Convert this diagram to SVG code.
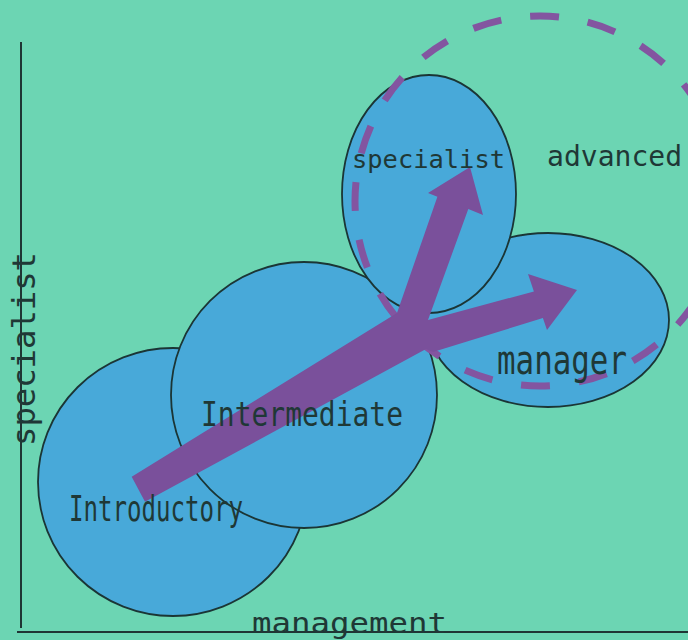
<svg xmlns="http://www.w3.org/2000/svg" width="688" height="640" viewBox="0 0 688 640">
  <style>
    .bg { fill: #6cd5b3; }
    .node { fill: #48a9d9; stroke: #1b3535; stroke-width: 1.8; }
    .axis { stroke: #1f3534; stroke-width: 2; fill: none; }
    .lbl { font-family: "DejaVu Sans Mono", "Liberation Mono", monospace; fill: #1f3836; }
    .arrow { fill: #7a509b; stroke: none; }
    .dash { fill: none; stroke: #8355a0; stroke-width: 7; stroke-dasharray: 29 29.1; stroke-dashoffset: 10; }
  </style>
  <rect class="bg" x="0" y="0" width="688" height="640"/>

  <g id="axes">
    <line class="axis" x1="21" y1="42" x2="21" y2="628"/>
    <line class="axis" x1="17" y1="632" x2="688" y2="632"/>
    <text class="lbl" transform="translate(35,349) rotate(-90)" text-anchor="middle" font-size="32" textLength="194" lengthAdjust="spacingAndGlyphs">specialist</text>
    <text class="lbl" x="252" y="633" font-size="28" textLength="195" lengthAdjust="spacingAndGlyphs">management</text>
  </g>

  <g id="introductory">
    <ellipse class="node" cx="173" cy="482" rx="135" ry="134"/>
  </g>
  <g id="manager">
    <ellipse class="node" cx="548" cy="320" rx="121" ry="87"/>
  </g>
  <g id="intermediate">
    <ellipse class="node" cx="304" cy="395" rx="133" ry="133"/>
  </g>
  <g id="specialist">
    <ellipse class="node" cx="429" cy="194" rx="87" ry="119"/>
  </g>

  <g id="advanced">
    <circle class="dash" cx="540" cy="201" r="185"/>
  </g>

  <g id="connectors">
    <path class="arrow" d="M131.7,476.7 L397,313 L437.4,196.8 L428,193 L470,167 L483,215 L468.3,209.1 L428,320 L533.9,291.4 L528,274 L577,290 L547,330 L542.9,318 L433,352 L426,349 L145,501.7 Z"/>
  </g>

  <g id="labels">
    <text class="lbl" x="352" y="168" font-size="25" textLength="153" lengthAdjust="spacingAndGlyphs">specialist</text>
    <text class="lbl" x="547" y="166" font-size="28" textLength="135" lengthAdjust="spacingAndGlyphs">advanced</text>
    <text class="lbl" x="497" y="374" font-size="41" textLength="130" lengthAdjust="spacingAndGlyphs">manager</text>
    <text class="lbl" x="201" y="426" font-size="34" textLength="202" lengthAdjust="spacingAndGlyphs">Intermediate</text>
    <text class="lbl" x="69" y="521" font-size="35" textLength="174" lengthAdjust="spacingAndGlyphs">Introductory</text>
  </g>
</svg>
